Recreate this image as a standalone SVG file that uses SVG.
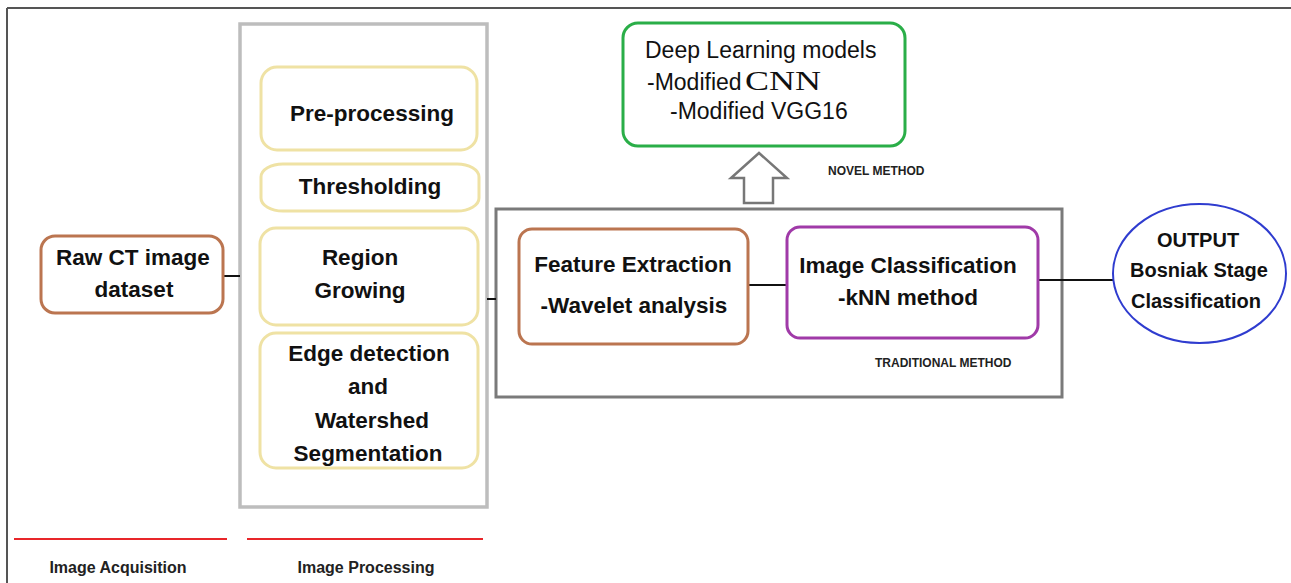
<svg xmlns="http://www.w3.org/2000/svg" width="1291" height="583" viewBox="0 0 1291 583">
<style>
text{font-family:"Liberation Sans",Arial,sans-serif;fill:#111}
.b{font-weight:bold;font-size:22.5px}
.r{font-size:23px}
.m{text-anchor:middle}
.s{font-weight:bold;font-size:12px;fill:#222}
.lbl{font-weight:bold;font-size:16px;fill:#222;text-anchor:middle}
.yel{fill:#fff;stroke:#efe2a4;stroke-width:3}
.conn line{stroke:#111;stroke-width:2}
</style>
<rect width="1291" height="583" fill="#fff"/>
<g id="frame" fill="none" stroke="#555" stroke-width="2">
<line x1="7" y1="8" x2="1291" y2="8"/>
<line x1="7" y1="8" x2="7" y2="583"/>
</g>
<g id="processing-group">
<rect x="240" y="24" width="247" height="483" fill="#fff" stroke="#bdbdbd" stroke-width="3.5"/>
</g>
<g id="traditional-group">
<rect x="496" y="209" width="566" height="188" fill="#fff" stroke="#7a7a7a" stroke-width="3"/>
<text class="s" x="875" y="367">TRADITIONAL METHOD</text>
</g>
<g class="conn" id="connectors">
<line x1="223" y1="276" x2="240" y2="276"/>
<line x1="487" y1="299" x2="496" y2="299"/>
<line x1="748" y1="285" x2="787" y2="285"/>
<line x1="1038" y1="280" x2="1113" y2="280"/>
<polygon points="759,153 787,178 773,178 773,203 744,203 744,178 731,178" fill="#fff" stroke="#777" stroke-width="2.5" stroke-linejoin="miter"/>
</g>
<g id="raw-ct">
<rect x="41" y="236" width="182" height="77" rx="14" fill="#fff" stroke="#bb7550" stroke-width="3"/>
<text class="b m" x="133" y="265">Raw CT image</text>
<text class="b m" x="134" y="297">dataset</text>
</g>
<g id="pre-processing">
<rect class="yel" x="261" y="67" width="216" height="83" rx="16"/>
<text class="b m" x="372" y="121">Pre-processing</text>
</g>
<g id="thresholding">
<rect class="yel" x="261" y="164" width="218" height="47" rx="22" ry="13"/>
<text class="b m" x="370" y="194">Thresholding</text>
</g>
<g id="region-growing">
<rect class="yel" x="260" y="228" width="218" height="97" rx="16"/>
<text class="b m" x="360" y="265">Region</text>
<text class="b m" x="360" y="298">Growing</text>
</g>
<g id="edge-watershed">
<rect class="yel" x="260" y="333" width="218" height="135" rx="16"/>
<text class="b m" x="369" y="361">Edge detection</text>
<text class="b m" x="368" y="394">and</text>
<text class="b m" x="372" y="428">Watershed</text>
<text class="b m" x="368" y="461">Segmentation</text>
</g>
<g id="feature-extraction">
<rect x="519" y="229" width="229" height="115" rx="13" fill="#fff" stroke="#bb7550" stroke-width="3"/>
<text class="b m" x="633" y="272">Feature Extraction</text>
<text class="b m" x="634" y="313">-Wavelet analysis</text>
</g>
<g id="image-classification">
<rect x="787" y="227" width="251" height="111" rx="13" fill="#fff" stroke="#a03aa8" stroke-width="3"/>
<text class="b m" x="908" y="273">Image Classification</text>
<text class="b m" x="908" y="305">-kNN method</text>
</g>
<g id="deep-learning">
<rect x="623" y="23" width="282" height="123" rx="15" fill="#fff" stroke="#2aae48" stroke-width="3"/>
<text class="r" x="645" y="58">Deep Learning models</text>
<text class="r" x="647" y="90">-Modified</text>
<text x="745" y="90" style="font-family:'Liberation Serif','Times New Roman',serif;font-size:28px" textLength="76" lengthAdjust="spacingAndGlyphs">CNN</text>
<text class="r" x="670" y="119">-Modified VGG16</text>
<text class="s" x="828" y="175">NOVEL METHOD</text>
</g>
<g id="output">
<ellipse cx="1199.5" cy="273.5" rx="86.5" ry="69.5" fill="#fff" stroke="#2f3ccf" stroke-width="2"/>
<text class="b m" x="1198" y="247" style="font-size:20px">OUTPUT</text>
<text class="b m" x="1199" y="277" style="font-size:20px">Bosniak Stage</text>
<text class="b m" x="1196" y="308" style="font-size:20px">Classification</text>
</g>
<g id="stage-labels">
<line x1="14" y1="539" x2="227" y2="539" stroke="#e8262a" stroke-width="2"/>
<line x1="247" y1="539" x2="483" y2="539" stroke="#e8262a" stroke-width="2"/>
<text class="lbl" x="118" y="573">Image Acquisition</text>
<text class="lbl" x="366" y="573">Image Processing</text>
</g>
</svg>
